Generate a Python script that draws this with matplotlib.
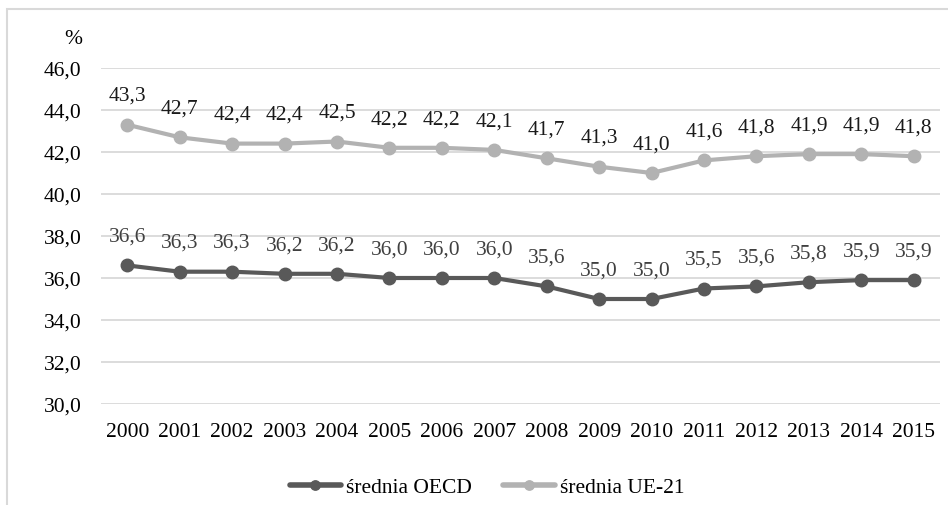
import matplotlib
matplotlib.use("Agg")
import matplotlib.pyplot as plt
from matplotlib.patches import Rectangle

years = [str(y) for y in range(2000, 2016)]
oecd = [36.6, 36.3, 36.3, 36.2, 36.2, 36.0, 36.0, 36.0, 35.6, 35.0, 35.0, 35.5, 35.6, 35.8, 35.9, 35.9]
ue21 = [43.3, 42.7, 42.4, 42.4, 42.5, 42.2, 42.2, 42.1, 41.7, 41.3, 41.0, 41.6, 41.8, 41.9, 41.9, 41.8]
yticks = [30, 32, 34, 36, 38, 40, 42, 44, 46]

plt.rcParams["font.family"] = ["Liberation Serif", "DejaVu Serif"]
FS = 15.5

W, H = 948, 506
fig = plt.figure(figsize=(W / 100, H / 100), dpi=100)

# chart frame (only left and top edges visible)
fig.patches.append(Rectangle((7 / W, -0.1), 1.2, 1 - 10 / H + 0.1,
                             transform=fig.transFigure, fill=False,
                             edgecolor="#d9d9d9", lw=1.5))

ax = fig.add_axes([101 / W, 1 - 405 / H, (940 - 101) / W, (405 - 69) / H])
x = list(range(len(years)))

series = [("średnia OECD", oecd, "#595959", "#404040"),
          ("średnia UE-21", ue21, "#b2b2b2", "#1a1a1a")]
for name, vals, col, tcol in series:
    ax.plot(x, vals, color=col, lw=3.0, marker="o", ms=9, label=name,
            solid_capstyle="round", zorder=3)
    for xi, v in zip(x, vals):
        ax.annotate(f"{v:.1f}".replace(".", ","), (xi, v), xytext=(0, 21),
                    textcoords="offset points", ha="center", va="center",
                    fontsize=FS, color=tcol)

ax.set_xlim(-0.5, len(years) - 0.5)
ax.set_ylim(30, 46)
ax.set_yticks(yticks)
ax.set_yticklabels([f"{t:.1f}".replace(".", ",") for t in yticks], fontsize=FS)
ax.set_xticks(x)
ax.set_xticklabels(years, fontsize=FS)
ax.tick_params(length=0, pad=14, axis="y")
ax.tick_params(length=0, pad=13, axis="x")
ax.grid(axis="y", color="#d9d9d9", lw=1.3)
ax.set_axisbelow(True)
for s in ax.spines.values():
    s.set_visible(False)

fig.text(73 / W, 1 - 40 / H, "%", ha="center", va="center", fontsize=FS)

leg = fig.legend(loc="center", bbox_to_anchor=(487 / W, 1 - 488 / H), ncol=2,
                 frameon=False, fontsize=FS, handlelength=2.4,
                 handletextpad=0.23, columnspacing=1.45, markerscale=0.75)
for h in leg.get_lines():
    h.set_linewidth(4)

fig.savefig("out.png", dpi=100)
